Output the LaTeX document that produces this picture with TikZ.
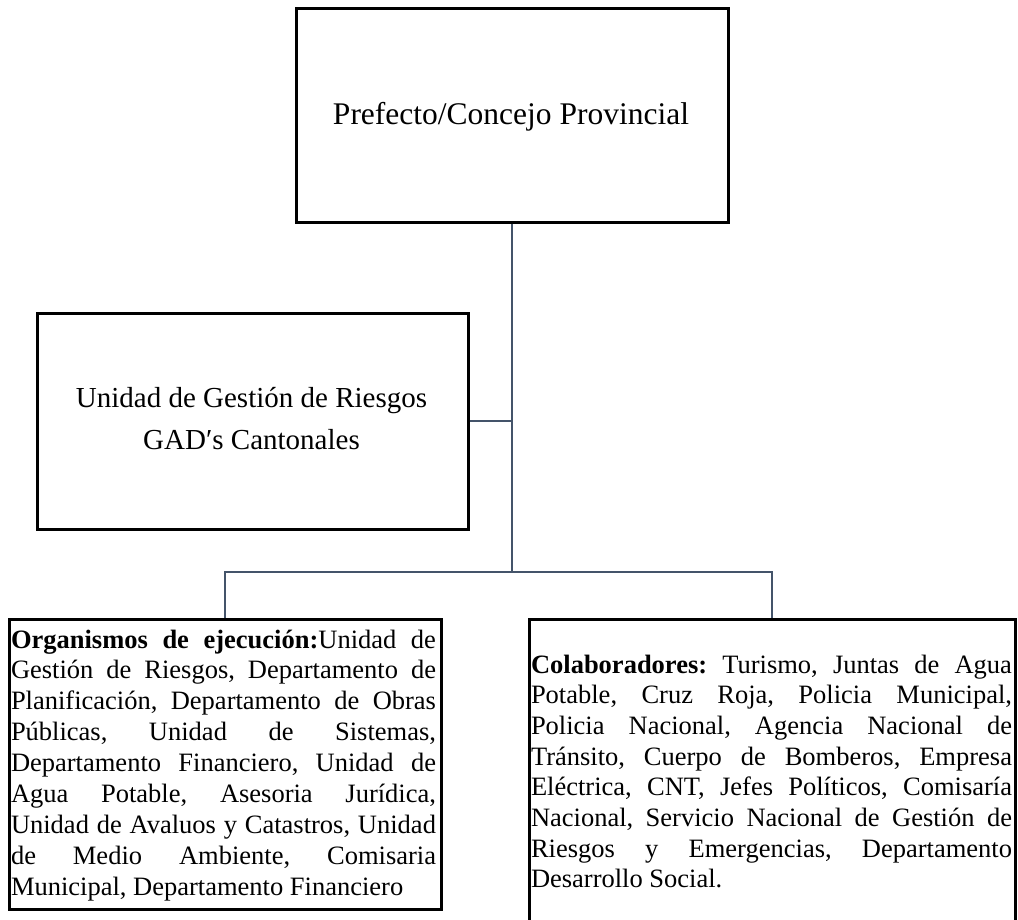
\documentclass[tikz,border=0pt]{standalone}
\usepackage{fontspec}
\setmainfont{Liberation Serif}
\definecolor{linkc}{HTML}{44546A}
\newcommand\jline[1]{\hbox to \hsize{#1}\par}
\newcommand\lastline[1]{\hbox{#1}\par}
\frenchspacing
\begin{document}
\begin{tikzpicture}[x=1pt,y=-1pt,
  box/.style={draw=black,line width=2.6pt,inner sep=0pt,anchor=north west},
  conn/.style={draw=linkc,line width=2.3pt},
  txt/.style={inner sep=0pt,outer sep=0pt}]
\useasboundingbox (0,0) rectangle (1018,919);
\clip (0,0) rectangle (1018,919);
% boxes
\node[box,minimum width=432pt,minimum height=214pt] (pref) at (295,7) {};
\node[box,minimum width=431pt,minimum height=216pt] (unit) at (36,312) {};
\node[box,minimum width=432pt,minimum height=290pt] (org) at (8,618) {};
\node[box,minimum width=486pt,minimum height=330pt] (col) at (528,618) {};
% connectors
\coordinate (bus) at (pref.south |- 0,572);
\draw[conn] (pref.south) -- (bus);
\draw[conn] (unit.east) -- (unit.east -| bus);
\draw[conn] (org.north) |- (bus) -| (col.north);
% texts
\node[txt,anchor=base,font=\fontsize{31.5}{38}\selectfont] (preft) at (511,124) {Prefecto/Concejo Provincial};
\node[txt,anchor=base,font=\fontsize{29}{35}\selectfont] (unitt1) at (251.5,407) {Unidad de Gestión de Riesgos};
\node[txt,anchor=base,font=\fontsize{29}{35}\selectfont] (unitt2) at (251.5,449) {GAD′s Cantonales};
\node[txt,anchor=base west,font=\fontsize{26.5}{30.9}\selectfont] (orgt) at (11,648) {\vtop{\hsize=425pt\parindent=0pt\baselineskip=30.9pt\frenchspacing
\jline{\textbf{Organismos de ejecución:}Unidad de}
\jline{Gestión de Riesgos, Departamento de}
\jline{Planificación, Departamento de Obras}
\jline{Públicas, Unidad de Sistemas,}
\jline{Departamento Financiero, Unidad de}
\jline{Agua Potable, Asesoria Jurídica,}
\jline{Unidad de Avaluos y Catastros, Unidad}
\jline{de Medio Ambiente, Comisaria}
\lastline{Municipal, Departamento Financiero}}};
\node[txt,anchor=base west,font=\fontsize{26.5}{30.7}\selectfont] (colt) at (531,673) {\vtop{\hsize=481pt\parindent=0pt\baselineskip=30.7pt\frenchspacing
\jline{\textbf{Colaboradores:} Turismo, Juntas de Agua}
\jline{Potable, Cruz Roja, Policia Municipal,}
\jline{Policia Nacional, Agencia Nacional de}
\jline{Tránsito, Cuerpo de Bomberos, Empresa}
\jline{Eléctrica, CNT, Jefes Políticos, Comisaría}
\jline{Nacional, Servicio Nacional de Gestión de}
\jline{Riesgos y Emergencias, Departamento}
\lastline{Desarrollo Social.}}};
\end{tikzpicture}
\end{document}
